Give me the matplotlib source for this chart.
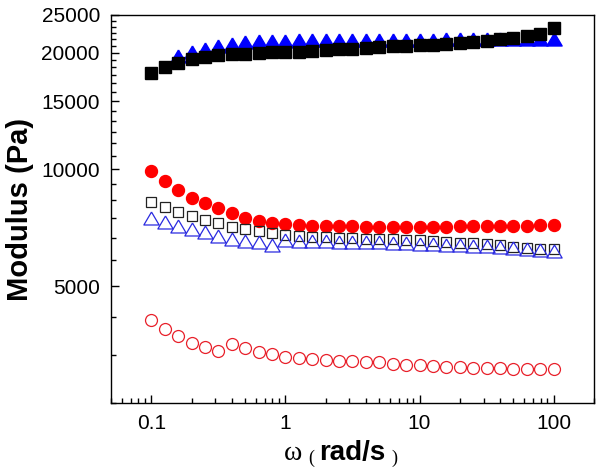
import numpy as np
import matplotlib
matplotlib.use("Agg")
import matplotlib.pyplot as plt
from matplotlib.ticker import FixedLocator, FuncFormatter, NullFormatter, LogLocator

plt.rcParams['font.family'] = ['Liberation Sans', 'DejaVu Sans']

# angular frequency (rad/s)
omega = [0.1, 0.126, 0.158, 0.2, 0.251, 0.316, 0.398, 0.501, 0.631, 0.794,
         1, 1.26, 1.58, 2, 2.51, 3.16, 3.98, 5.01, 6.31, 7.94,
         10, 12.6, 15.8, 20, 25.1, 31.6, 39.8, 50.1, 63.1, 79.4, 100]

# black filled squares
g_sq = [17750, 18400, 18840, 19220, 19520, 19720, 19800, 19880, 19990, 20040,
        20040, 20110, 20200, 20320, 20440, 20480, 20600, 20690, 20770, 20810,
        20900, 20980, 21050, 21150, 21250, 21430, 21620, 21850, 22080, 22330, 23100]

# blue filled triangles (start at 0.158 rad/s)
omega_tri = omega[2:]
g_tri = [19640, 20040, 20440, 20840, 21060, 21270, 21380, 21450, 21480, 21500,
         21500, 21520, 21520, 21540, 21550, 21560, 21570, 21580, 21600, 21610,
         21620, 21640, 21650, 21660, 21680, 21690, 21700, 21700, 21720]

# red filled circles
g_circ = [9925, 9340, 8850, 8460, 8200, 7940, 7710, 7480, 7370, 7290,
          7220, 7190, 7160, 7150, 7140, 7130, 7120, 7120, 7120, 7120,
          7120, 7120, 7120, 7130, 7130, 7140, 7140, 7150, 7160, 7170, 7180]

# open squares
o_sq = [8256, 8014, 7780, 7586, 7406, 7262, 7118, 7009, 6939, 6869,
        6776, 6736, 6708, 6682, 6657, 6645, 6630, 6620, 6608, 6578,
        6567, 6539, 6511, 6472, 6448, 6408, 6370, 6316, 6278, 6240, 6218]

# open triangles
o_tri = [7472, 7297, 7156, 7015, 6877, 6723, 6610, 6546, 6481, 6392,
         6570, 6540, 6530, 6520, 6510, 6500, 6490, 6480, 6470, 6455,
         6440, 6420, 6400, 6380, 6360, 6340, 6310, 6280, 6250, 6210, 6170]

# open circles
o_circ = [4100, 3873, 3729, 3576, 3492, 3404, 3542, 3459, 3390, 3344,
          3291, 3260, 3240, 3227, 3214, 3208, 3196, 3185, 3151, 3139,
          3134, 3114, 3103, 3091, 3085, 3080, 3074, 3067, 3067, 3067, 3067]

y_major = [5000, 10000, 15000, 20000, 25000]
x_major = [0.1, 1, 10, 100]

# closed triangle path, a bit wider than tall
tri = [(0, 0.85), (-1, -0.85), (1, -0.85), (0, 0.85)]

fig = plt.figure(figsize=(6, 4.7), dpi=100)
ax = fig.add_axes([0.185, 0.1426, 0.805, 0.8255])

ax.plot(omega_tri, g_tri, ls='none', marker=tri, ms=11, color='#0000ff', mec='#0000ff')
ax.plot(omega, g_sq, ls='none', marker='s', ms=8, color='black')
ax.plot(omega, g_circ, ls='none', marker='o', ms=8.6, color='#ff0000', mec='#ff0000')
ax.plot(omega, o_sq, ls='none', marker='s', ms=7.8, mfc='none', mec='#222222', mew=0.9)
ax.plot(omega, o_tri, ls='none', marker=tri, ms=11, mfc='none', mec='#2a2ae0', mew=0.9)
ax.plot(omega, o_circ, ls='none', marker='o', ms=8.6, mfc='none', mec='#e8202a', mew=0.9)

ax.set_xscale('log')
ax.set_yscale('log')
ax.set_xlim(0.05, 200)
ax.set_ylim(2500, 25000)

ax.yaxis.set_major_locator(FixedLocator(y_major))
ax.yaxis.set_major_formatter(FuncFormatter(lambda v, p: '%d' % round(v)))
ymin = np.arange(2500, 25001, 5000 / 6.0)
ax.yaxis.set_minor_locator(FixedLocator([v for v in ymin if min(abs(v - m) for m in y_major) > 1]))
ax.yaxis.set_minor_formatter(NullFormatter())

ax.xaxis.set_major_locator(FixedLocator(x_major))
ax.xaxis.set_major_formatter(FuncFormatter(lambda v, p: '%g' % v))
ax.xaxis.set_minor_locator(LogLocator(base=10, subs=np.arange(2, 10)))
ax.xaxis.set_minor_formatter(NullFormatter())

ax.tick_params(which='both', direction='in', top=False, right=False, width=1, labelsize=15)
ax.tick_params(which='major', length=6, pad=8)
ax.tick_params(which='minor', length=3.5)
for s in ax.spines.values():
    s.set_linewidth(1)

fig.text(20 / 600, 0.555, 'Modulus (Pa)', rotation=90, ha='center', va='center',
         fontsize=21, fontweight='bold')

# x label in pieces: serif omega, small serif parens, bold sans units
fig.text(284 / 600, 0.0213, 'ω', family=['Liberation Serif', 'DejaVu Serif'], fontsize=20, va='baseline')
fig.text(308 / 600, 0.015, '(', family=['Liberation Serif', 'DejaVu Serif'], fontsize=13, va='baseline')
fig.text(319 / 600, 0.0213, 'rad/s', fontsize=20, fontweight='bold', va='baseline')
fig.text(391 / 600, 0.015, ')', family=['Liberation Serif', 'DejaVu Serif'], fontsize=13, va='baseline')

fig.savefig('out.png', dpi=100)
